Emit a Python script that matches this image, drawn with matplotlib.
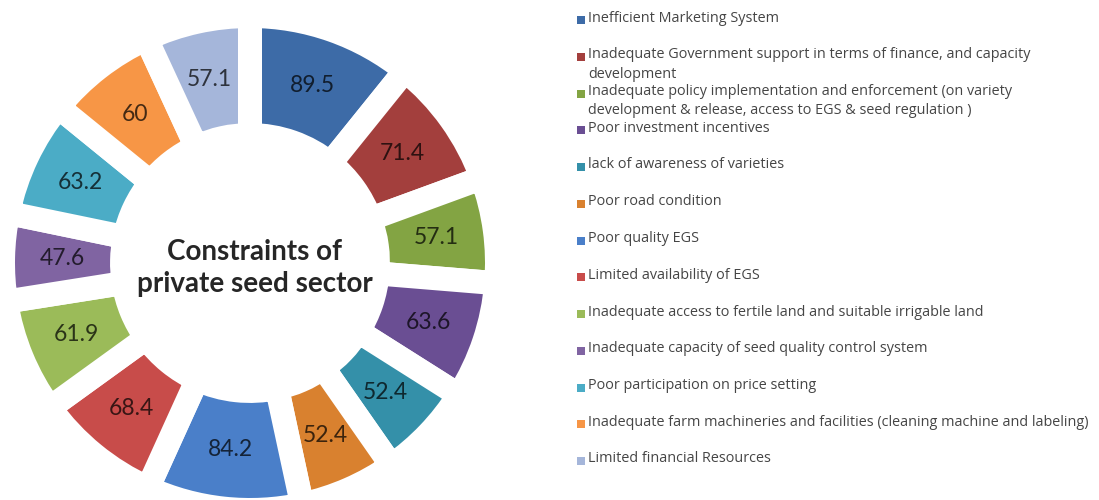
import matplotlib
matplotlib.use("Agg")
import matplotlib.pyplot as plt
import numpy as np

categories = [
    "Inefficient Marketing System",
    "Inadequate Government support in terms of finance, and capacity\ndevelopment",
    "Inadequate policy implementation and enforcement (on variety\ndevelopment & release, access to EGS & seed regulation )",
    "Poor investment incentives",
    "lack of awareness of varieties",
    "Poor road condition",
    "Poor quality EGS",
    "Limited availability of EGS",
    "Inadequate access to fertile land and suitable irrigable land",
    "Inadequate capacity of seed quality control system",
    "Poor participation on price setting",
    "Inadequate farm machineries and facilities (cleaning machine and labeling)",
    "Limited financial Resources",
]
values = [89.5, 71.4, 57.1, 63.6, 52.4, 52.4, 84.2, 68.4, 61.9, 47.6, 63.2, 60, 57.1]
value_labels = ["89.5", "71.4", "57.1", "63.6", "52.4", "52.4", "84.2",
                "68.4", "61.9", "47.6", "63.2", "60", "57.1"]
colors = ["#3d6ba7", "#a33f3d", "#83a443", "#6a4e93", "#3490a9", "#d9812f",
          "#4a7fc9", "#c84c4a", "#9bbb59", "#8064a2", "#4bacc6", "#f79646",
          "#a5b6da"]
center_title = "Constraints of\nprivate seed sector"

W, H = 1099, 500
fig = plt.figure(figsize=(W / 100, H / 100), dpi=100)

# doughnut: centre at (250, 263) px, 247 px per unit radius
cx, cy, unit = 250, 263, 247
ax = fig.add_axes([(cx - unit) / W, (H - cy - unit) / H, 2 * unit / W, 2 * unit / H])
gap_px = 24
wedges, _ = ax.pie(values, radius=1, startangle=90, counterclock=False,
                   colors=colors,
                   wedgeprops=dict(width=0.482, edgecolor="white",
                                   linewidth=gap_px * 0.72, joinstyle="miter"))
ax.set_xlim(-1, 1)
ax.set_ylim(-1, 1)
ax.set_aspect("equal")
ax.axis("off")

for w, lab in zip(wedges, value_labels):
    mid = np.deg2rad((w.theta1 + w.theta2) / 2)
    ax.text(0.76 * np.cos(mid), 0.76 * np.sin(mid), lab, ha="center", va="center",
            fontsize=16.5, family="Lato", color="black", alpha=0.72)

ax.text(0.02, -0.02, center_title, ha="center", va="center", fontsize=20,
        family="Lato", fontweight="bold", color="#262626", linespacing=1.25)

# legend drawn in pixel coordinates on an overlay axes
lax = fig.add_axes([0, 0, 1, 1])
lax.set_xlim(0, W)
lax.set_ylim(H, 0)
lax.axis("off")
lax.patch.set_alpha(0)
for i, (lab, col) in enumerate(zip(categories, colors)):
    y = 20 + i * 36.75
    lax.scatter([581], [y], marker="s", s=26, color=col, linewidths=0)
    lax.text(588, y - 9.5, lab, ha="left", va="top", fontsize=10.4,
             family="Open Sans", color="#454545", linespacing=1.4)

fig.savefig("out.png", dpi=100)
